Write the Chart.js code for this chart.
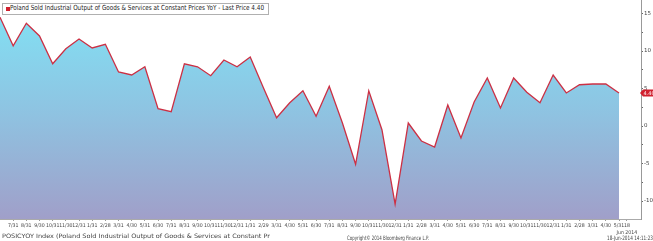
<!DOCTYPE html>
<html>
<head>
<meta charset="utf-8">
<script src="https://cdn.jsdelivr.net/npm/chart.js@4.4.1/dist/chart.umd.min.js"></script>
<style>
  html, body { margin: 0; padding: 0; background: #fff; }
  #wrap { position: relative; width: 653px; height: 241px; overflow: hidden; font-family: "DejaVu Sans", sans-serif; }
  #c { position: absolute; left: 0; top: 0; }
  .txt { position: absolute; white-space: nowrap; color: #333; transform-origin: 0 50%; }
  #legend { position: absolute; left: 2px; top: 3px; width: 265px; height: 10px; border: 1px solid #b0b0b0; background: #fff; }
  #legend .sq { position: absolute; left: 3px; top: 2.5px; width: 4px; height: 4px; background: #d0202e; }
</style>
</head>
<body>
<div id="wrap">
  <canvas id="c" width="653" height="241"></canvas>
  <div id="legend"><div class="sq"></div></div>
  <span class="txt fit" data-w="254" style="left:10px; top:4px; font-size:7px; line-height:9px; color:#222;">Poland Sold Industrial Output of Goods &amp; Services at Constant Prices YoY - Last Price 4.40</span>
  <span class="txt fit" data-w="268" style="left:2px; top:232px; font-size:6px; line-height:7px; color:#444;">POSICYOY Index (Poland Sold Industrial Output of Goods &amp; Services at Constant Pr</span>
  <span class="txt fit" data-w="82" style="left:347px; top:234px; font-size:6px; line-height:7px; color:#444;">Copyright© 2014 Bloomberg Finance L.P.</span>
  <span class="txt fit" data-w="46" style="left:607px; top:234px; font-size:6px; line-height:7px; color:#444;">18-Jun-2014 14:11:23</span>
</div>
<script>
// mes de cada punto (6/30/2010 .. 5/31/2014)
const etiquetasMes = [
    '6/30',
    '7/31', '8/31', '9/30', '10/31', '11/30', '12/31',
    '1/31', '2/28', '3/31', '4/30', '5/31', '6/30', '7/31', '8/31', '9/30', '10/31', '11/30', '12/31',
    '1/31', '2/29', '3/31', '4/30', '5/31', '6/30', '7/31', '8/31', '9/30', '10/31', '11/30', '12/31',
    '1/31', '2/28', '3/31', '4/30', '5/31', '6/30', '7/31', '8/31', '9/30', '10/31', '11/30', '12/31',
    '1/31', '2/28', '3/31', '4/30', '5/31'
];
const valores = [
    14.5,
    10.7, 13.7, 12.0, 8.3, 10.3, 11.6,
    10.4, 10.9, 7.2, 6.8, 7.9, 2.3, 1.9, 8.3, 7.9, 6.7, 8.8, 7.9,
    9.2, 5.1, 1.1, 3.1, 4.7, 1.3, 5.3, 0.4, -5.1, 4.7, -0.5, -10.4,
    0.4, -2.0, -2.8, 2.8, -1.6, 3.2, 6.4, 2.4, 6.4, 4.5, 3.1, 6.8,
    4.4, 5.5, 5.6, 5.6, 4.4
];
const ultimoPrecio = 4.40;
const ticksY = [-10, -7.5, -5, -2.5, 0, 2.5, 5, 7.5, 10, 12.5, 15];
const posHoy = 47.6;            // 18 Jun 2014
const etiquetaHoy = ['18', 'Jun 2014'];

const puntos = valores.map((v, i) => ({ x: i, y: v }));

const etiquetaPrecio = {
    id: 'etiquetaPrecio',
    afterDraw(chart) {
        const ctx = chart.ctx;
        const y = chart.scales.y.getPixelForValue(ultimoPrecio);
        const x = chart.chartArea.right;
        ctx.save();
        ctx.fillStyle = '#d0202e';
        ctx.beginPath();
        ctx.moveTo(x - 1, y);
        ctx.lineTo(x + 2, y - 3.5);
        ctx.lineTo(653, y - 3.5);
        ctx.lineTo(653, y + 3.5);
        ctx.lineTo(x + 2, y + 3.5);
        ctx.closePath();
        ctx.fill();
        ctx.fillStyle = '#fff';
        ctx.font = '5px "DejaVu Sans"';
        ctx.textBaseline = 'middle';
        ctx.fillText(ultimoPrecio.toFixed(2), x + 2.5, y + 0.5);
        ctx.restore();
    }
};

new Chart(document.getElementById('c').getContext('2d'), {
    type: 'line',
    data: {
        datasets: [{
            label: 'Poland Sold Industrial Output',
            data: puntos,
            borderColor: '#cc3044',
            borderWidth: 1.3,
            pointRadius: 0,
            tension: 0,
            fill: 'start',
            backgroundColor: function (context) {
                const area = context.chart.chartArea;
                if (!area) return '#8fc8e4';
                const g = context.chart.ctx.createLinearGradient(0, area.top, 0, area.bottom);
                g.addColorStop(0, '#80e4f6');
                g.addColorStop(0.5, '#8ec4e2');
                g.addColorStop(1, '#a09fc9');
                return g;
            }
        }]
    },
    options: {
        responsive: false,
        animation: false,
        layout: { padding: 0 },
        plugins: {
            legend: { display: false },
            tooltip: { enabled: false }
        },
        scales: {
            x: {
                type: 'linear',
                min: 0,
                max: 48.67,
                afterBuildTicks: s => {
                    s.ticks = etiquetasMes.slice(1).map((l, i) => ({ value: i + 1 })).concat([{ value: posHoy }]);
                },
                afterFit: s => {
                    s.height = 22;
                    s.paddingLeft = 0;
                    s.paddingRight = 0;
                },
                grid: { drawOnChartArea: false, tickLength: 2, color: '#999' },
                border: { display: true, color: '#aaa' },
                ticks: {
                    autoSkip: false,
                    maxRotation: 0,
                    padding: 1,
                    color: '#444',
                    font: { size: 5.2, family: '"Liberation Sans Narrow", "DejaVu Sans Condensed", "Liberation Sans"', lineHeight: 1.35 },
                    callback: function (v) {
                        if (v === posHoy) return etiquetaHoy;
                        return etiquetasMes[v];
                    }
                }
            },
            y: {
                position: 'right',
                min: -12.4,
                max: 16.8,
                afterBuildTicks: s => {
                    s.ticks = ticksY.map(v => ({ value: v }));
                },
                afterFit: s => {
                    s.width = 12;
                    s.paddingTop = 0;
                    s.paddingBottom = 0;
                },
                grid: { drawOnChartArea: false, tickLength: 2, color: '#666' },
                border: { display: true, color: '#999' },
                ticks: {
                    padding: 1,
                    color: '#444',
                    font: { size: 5.5, family: 'DejaVu Sans' },
                    callback: v => (v % 5 === 0 ? String(v) : '')
                }
            }
        }
    },
    plugins: [etiquetaPrecio]
});

// ajustar el ancho de los textos
document.querySelectorAll('.fit').forEach(el => {
    const w = el.getBoundingClientRect().width;
    const objetivo = parseFloat(el.dataset.w);
    el.style.transform = `scaleX(${objetivo / w})`;
});
</script>
</body>
</html>
